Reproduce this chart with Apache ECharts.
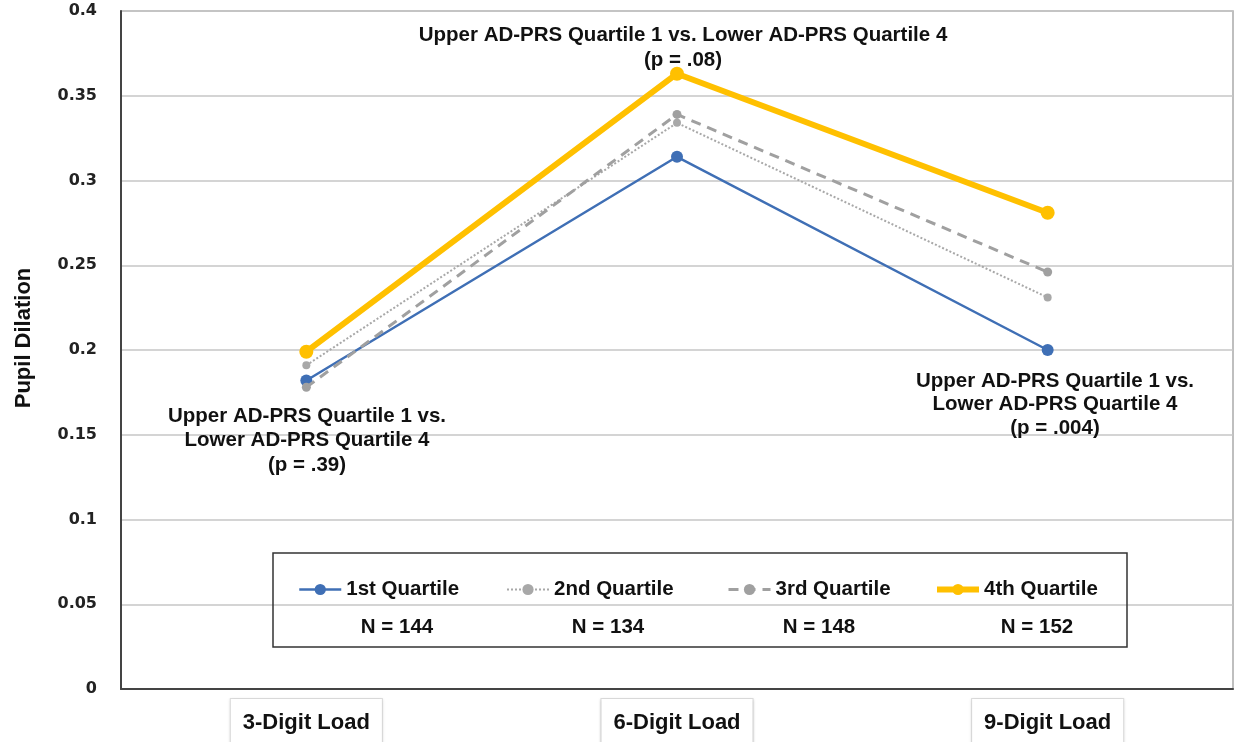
<!DOCTYPE html>
<html>
<head>
<meta charset="utf-8">
<script src="https://cdn.jsdelivr.net/npm/echarts@6/dist/echarts.min.js"></script>
<style>html,body{margin:0;padding:0;background:#fff}#c{width:1238px;height:742px}</style>
</head>
<body>
<div id="c"></div>
<script>
const categories = ['3-Digit Load', '6-Digit Load', '9-Digit Load'];
const seriesNames = ['1st Quartile', '2nd Quartile', '3rd Quartile', '4th Quartile'];
const q1 = [0.182, 0.314, 0.200];
const q2 = [0.191, 0.334, 0.231];
const q3 = [0.178, 0.339, 0.246];
const q4 = [0.199, 0.363, 0.281];
const nLabels = ['N = 144', 'N = 134', 'N = 148', 'N = 152'];
const yTicks = [0, 0.05, 0.1, 0.15, 0.2, 0.25, 0.3, 0.35, 0.4];
const annTop = ['Upper AD-PRS Quartile 1 vs. Lower AD-PRS Quartile 4', '(p = .08)'];
const annLeft = ['Upper AD-PRS Quartile 1 vs.', 'Lower AD-PRS Quartile 4', '(p = .39)'];
const annRight = ['Upper AD-PRS Quartile 1 vs.', 'Lower AD-PRS Quartile 4', '(p = .004)'];

const FONT = "'Liberation Sans', Arial, sans-serif";
const chart = echarts.init(document.getElementById('c'), null, {renderer: 'canvas'});

function txt(x, y, s, size) {
  return {type: 'text', x: x, y: y, style: {text: s, fill: '#111', font: 'bold ' + size + 'px ' + FONT, textAlign: 'center', textVerticalAlign: 'middle'}, z: 10};
}
const graphics = [];
graphics.push({type: 'rect', shape: {x: 273, y: 553, width: 854, height: 94}, style: {fill: 'none', stroke: '#333', lineWidth: 1.5}, z: 5});
const nX = [397, 608, 819, 1037];
nLabels.forEach((s, i) => graphics.push(txt(nX[i], 627, s, 20.5)));
const topY = [35, 60], leftY = [416, 440, 465], rightY = [381, 404, 428];
annTop.forEach((s, i) => graphics.push(txt(683, topY[i], s, 20.5)));
annLeft.forEach((s, i) => graphics.push(txt(307, leftY[i], s, 20.5)));
annRight.forEach((s, i) => graphics.push(txt(1055, rightY[i], s, 20.5)));

const styles = [
  {color: '#3f6fb5', width: 2.5, type: 'solid', sym: 12},
  {color: '#a8a8a8', width: 2, type: 'dotted', sym: 8},
  {color: '#a0a0a0', width: 3, type: [10, 7], sym: 9},
  {color: '#ffc000', width: 6, type: 'solid', sym: 14}
];
const dataArr = [q1, q2, q3, q4];
const legendLeft = [298, 506, 727, 934];

chart.setOption({
  animation: false,
  grid: {left: 121, right: 5, top: 11, bottom: 53, show: true, borderColor: '#aaa', borderWidth: 1.5,
    containLabel: false, outerBoundsMode: 'none'},
  xAxis: {
    type: 'category', data: categories, boundaryGap: true,
    axisTick: {show: false},
    axisLine: {lineStyle: {color: '#444', width: 2}},
    axisLabel: {
      color: '#111', fontSize: 22, fontWeight: 'bold', fontFamily: FONT, margin: 10,
      backgroundColor: '#fff', borderColor: '#ddd', borderWidth: 1, padding: [13, 12, 14, 12],
      shadowColor: 'rgba(0,0,0,0.12)', shadowBlur: 3, shadowOffsetY: 1
    }
  },
  yAxis: {
    type: 'value', min: 0, max: 0.4, interval: 0.05,
    name: 'Pupil Dilation', nameLocation: 'middle', nameGap: 86, nameRotate: 90,
    nameTextStyle: {color: '#111', fontSize: 22, fontWeight: 'bold', fontFamily: FONT, padding: [0, 0, 0, 24]},
    axisLine: {show: true, lineStyle: {color: '#444', width: 2}},
    axisTick: {show: false},
    axisLabel: {color: '#222', fontSize: 16, fontWeight: 'bold', fontFamily: "'DejaVu Sans', sans-serif", margin: 24,
      formatter: v => String(+v.toFixed(2))},
    splitLine: {lineStyle: {color: '#c6c6c6', width: 1.5}}
  },
  legend: legendLeft.map((l, i) => ({
    left: l, top: 579, padding: 0, data: [seriesNames[i]], itemWidth: 42, itemHeight: 14, itemGap: 5,
    lineStyle: {width: styles[i].width},
    textStyle: {color: '#111', fontSize: 20.5, fontWeight: 'bold', fontFamily: FONT}
  })),
  graphic: graphics,
  series: seriesNames.map((n, i) => ({
    name: n, type: 'line', data: dataArr[i],
    symbol: 'circle', symbolSize: styles[i].sym,
    lineStyle: {color: styles[i].color, width: styles[i].width, type: styles[i].type},
    itemStyle: {color: styles[i].color},
    z: 2 + i
  }))
});
</script>
</body>
</html>
